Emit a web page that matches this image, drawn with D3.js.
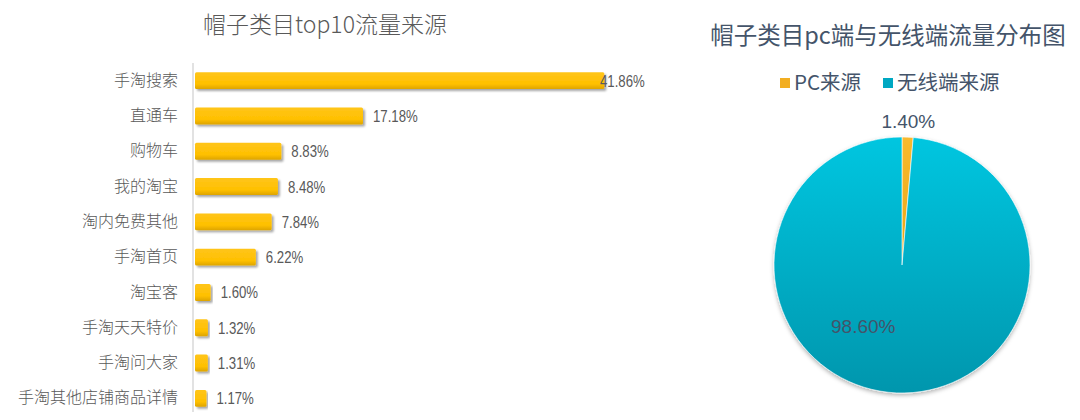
<!DOCTYPE html>
<html>
<head>
<meta charset="utf-8">
<script src="https://cdn.jsdelivr.net/npm/d3@7"></script>
<style>
  body { margin: 0; background: #fff; }
  svg { display: block; }
</style>
</head>
<body>
<div id="chart"></div>
<script>
  var svgWidth = 1080;
  var svgHeight = 420;

  // bar chart data (percent)
  var categories = ["手淘搜索", "直通车", "购物车", "我的淘宝", "淘内免费其他",
    "手淘首页", "淘宝客", "手淘天天特价", "手淘问大家", "手淘其他店铺商品详情"];
  var shares = [41.86, 17.18, 8.83, 8.48, 7.84, 6.22, 1.60, 1.32, 1.31, 1.17];

  // pie data (percent)
  var pieNames = ["PC来源", "无线端来源"];
  var pieValues = [1.40, 98.60];

  var cjk = "'Noto Sans CJK SC', 'Noto Sans', sans-serif";

  var svg = d3.select("#chart")
    .append("svg")
    .attr("width", svgWidth)
    .attr("height", svgHeight);

  var defs = svg.append("defs");

  // bar gradient + shadow
  var barGrad = defs.append("linearGradient")
    .attr("id", "barGrad")
    .attr("x1", 0).attr("y1", 0).attr("x2", 0).attr("y2", 1);
  barGrad.append("stop").attr("offset", "0%").attr("stop-color", "#FFC51A");
  barGrad.append("stop").attr("offset", "70%").attr("stop-color", "#FFC000");
  barGrad.append("stop").attr("offset", "100%").attr("stop-color", "#DDA400");

  var barShadow = defs.append("filter").attr("id", "barShadow")
    .attr("x", "-5%").attr("y", "-30%").attr("width", "115%").attr("height", "170%");
  barShadow.append("feDropShadow")
    .attr("dx", 2).attr("dy", 2).attr("stdDeviation", 1.3)
    .attr("flood-color", "#000").attr("flood-opacity", 0.35);

  // pie gradients
  var tealGrad = defs.append("linearGradient")
    .attr("id", "tealGrad")
    .attr("x1", 0).attr("y1", 0).attr("x2", 0).attr("y2", 1);
  tealGrad.append("stop").attr("offset", "0%").attr("stop-color", "#00C6E0");
  tealGrad.append("stop").attr("offset", "100%").attr("stop-color", "#0096AD");

  var orangeGrad = defs.append("linearGradient")
    .attr("id", "orangeGrad")
    .attr("x1", 0).attr("y1", 0).attr("x2", 0).attr("y2", 1);
  orangeGrad.append("stop").attr("offset", "0%").attr("stop-color", "#F9BA2E");
  orangeGrad.append("stop").attr("offset", "100%").attr("stop-color", "#E9A514");

  var pieShadow = defs.append("filter").attr("id", "pieShadow")
    .attr("x", "-10%").attr("y", "-10%").attr("width", "120%").attr("height", "125%");
  pieShadow.append("feDropShadow")
    .attr("dx", 0).attr("dy", 2).attr("stdDeviation", 2)
    .attr("flood-color", "#000").attr("flood-opacity", 0.3);

  // ---------------- bar chart ----------------
  var barGroup = svg.append("g");

  barGroup.append("text")
    .attr("x", 325)
    .attr("y", 33)
    .attr("text-anchor", "middle")
    .style("font-family", cjk)
    .style("font-size", "23px")
    .style("font-weight", 300)
    .style("fill", "#595959")
    .text("帽子类目top10流量来源");

  var xScale = d3.scaleLinear()
    .domain([0, 45])
    .range([195, 635]);

  var yScale = d3.scaleBand()
    .domain(categories)
    .range([63, 416])
    .paddingInner(0.52)
    .paddingOuter(0.26);

  // category axis
  var leftAxis = d3.axisLeft(yScale).tickSize(0).tickPadding(15);
  var axisG = barGroup.append("g")
    .attr("transform", "translate(193, 0)")
    .call(leftAxis);
  axisG.select(".domain")
    .attr("d", "M0,63V412")
    .attr("stroke", "#D9D9D9")
    .attr("stroke-width", 1.5);
  axisG.selectAll("text")
    .style("font-family", cjk)
    .style("font-size", "16px")
    .style("font-weight", 300)
    .style("fill", "#595959");

  barGroup.append("g").selectAll("rect")
    .data(shares)
    .enter()
    .append("rect")
    .attr("x", xScale(0))
    .attr("y", (d, i) => yScale(categories[i]))
    .attr("width", d => xScale(d) - xScale(0))
    .attr("height", yScale.bandwidth())
    .attr("rx", 1.5)
    .attr("fill", "url(#barGrad)")
    .attr("filter", "url(#barShadow)");

  // value labels use a horizontally squeezed face, like the condensed font in the original
  barGroup.append("g").selectAll("text")
    .data(shares)
    .enter()
    .append("text")
    .attr("transform", (d, i) =>
      `translate(${Math.min(xScale(d) + 10, 600)}, ${yScale(categories[i]) + yScale.bandwidth() / 2}) scale(0.8, 1)`)
    .attr("dy", "0.36em")
    .style("font-family", "'Liberation Sans', Arial, sans-serif")
    .style("font-size", "16.5px")
    .style("fill", "#595959")
    .text(d => d.toFixed(2) + "%");

  // ---------------- pie chart ----------------
  var cx = 902, cy = 265, radius = 128;
  var pieColors = ["url(#orangeGrad)", "url(#tealGrad)"];
  var legendColors = ["#F2AE22", "#00A8C2"];

  svg.append("text")
    .attr("x", 888)
    .attr("y", 44)
    .attr("text-anchor", "middle")
    .style("font-family", cjk)
    .style("font-size", "23.5px")
    .style("font-weight", 400)
    .style("fill", "#44546A")
    .text("帽子类目pc端与无线端流量分布图");

  // legend
  var legendX = [780, 883];
  var legend = svg.append("g").selectAll("g")
    .data(pieNames)
    .enter()
    .append("g")
    .attr("transform", (d, i) => `translate(${legendX[i]}, 83)`);
  legend.append("rect")
    .attr("x", 0).attr("y", -5)
    .attr("width", 10).attr("height", 10)
    .attr("fill", (d, i) => legendColors[i]);
  legend.append("text")
    .attr("x", 14)
    .attr("dy", "0.36em")
    .style("font-family", cjk)
    .style("font-size", "20.5px")
    .style("fill", "#44546A")
    .text(d => d);

  var pie = d3.pie().sort(null).value(d => d);
  var arcs = pie(pieValues);
  var arc = d3.arc().innerRadius(0).outerRadius(radius);

  var pieGroup = svg.append("g")
    .attr("transform", `translate(${cx}, ${cy})`);

  pieGroup.append("g")
    .attr("filter", "url(#pieShadow)")
    .selectAll("path")
    .data(arcs)
    .enter()
    .append("path")
    .attr("d", arc)
    .attr("fill", (d, i) => pieColors[i])
    .attr("stroke", "#fff")
    .attr("stroke-width", 0.6);

  // label for the small slice sits outside, the large one inside (Excel best fit)
  var outerLabelArc = d3.arc().innerRadius(radius + 16).outerRadius(radius + 16);
  var innerLabelRadius = 72;
  var innerLabelAngle = 3.71;

  pieGroup.selectAll(".pie-label")
    .data(arcs)
    .enter()
    .append("text")
    .attr("class", "pie-label")
    .attr("transform", function (d, i) {
      if (i === 0) return `translate(${outerLabelArc.centroid(d)})`;
      return `translate(${innerLabelRadius * Math.sin(innerLabelAngle)}, ${-innerLabelRadius * Math.cos(innerLabelAngle)})`;
    })
    .attr("text-anchor", "middle")
    .attr("dy", "0.36em")
    .style("font-family", "'Liberation Sans', Arial, sans-serif")
    .style("font-size", "19px")
    .style("fill", "#44546A")
    .text(d => d.data.toFixed(2) + "%");
</script>
</body>
</html>
